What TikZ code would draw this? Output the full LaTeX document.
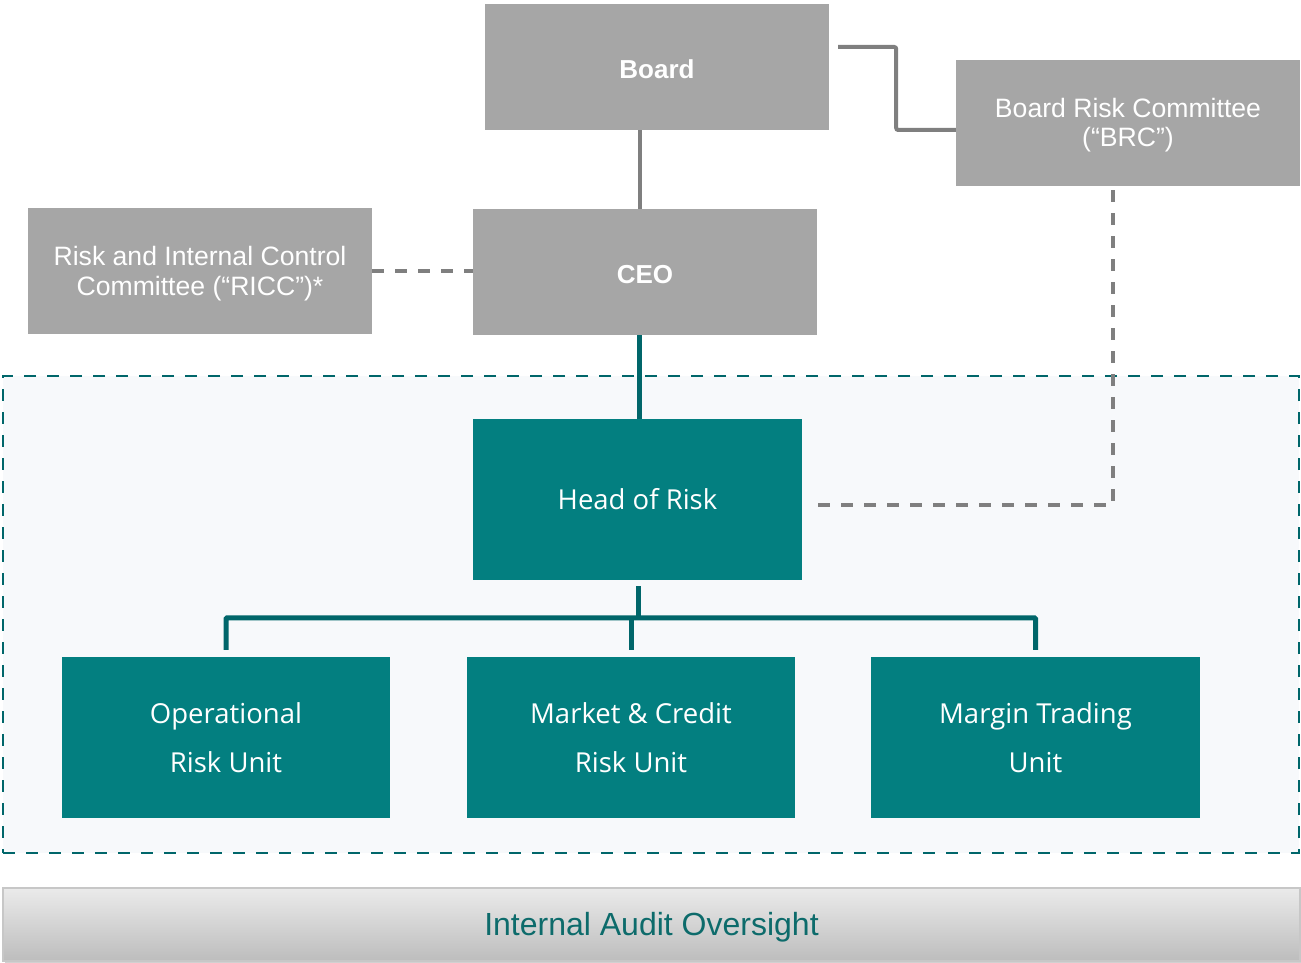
\documentclass[tikz,border=0pt]{standalone}
\usepackage{fontspec}
\setmainfont{Liberation Sans}
\newfontfamily\unitfont{Open Sans}
\usetikzlibrary{calc}

\definecolor{boxgray}{HTML}{A6A6A6}
\definecolor{linegray}{HTML}{7F7F7F}
\definecolor{boxteal}{HTML}{037F80}
\definecolor{lineteal}{HTML}{00666A}
\definecolor{areafill}{HTML}{F7F9FB}
\definecolor{audittext}{HTML}{0D6B6B}

% box labels sit a little below the geometric centre (box size kept)
\newcommand\boxlabel[2][3pt]{\raisebox{-#1}[\height][\depth]{\begin{tabular}{@{}c@{}}#2\end{tabular}}}

\tikzset{
  govbox/.style={rectangle, fill=boxgray, text=white, align=center, inner sep=0pt,
    minimum width=344pt, minimum height=126pt,
    font=\fontsize{26.6}{30}\selectfont},
  unitbox/.style={rectangle, fill=boxteal, text=white, align=center, inner sep=0pt,
    minimum width=329pt, minimum height=161pt,
    font=\unitfont\fontsize{27.5}{49}\selectfont},
  solidgray/.style={draw=linegray, line width=4pt},
  dashgray/.style={draw=linegray, line width=4pt, dash pattern=on 12pt off 11pt},
  solidteal/.style={draw=lineteal, line width=5pt},
  areabox/.style={rectangle, draw=lineteal, line width=2.5pt, fill=areafill,
    dash pattern=on 12pt off 11pt, inner sep=0pt},
}

\begin{document}
\begin{tikzpicture}[x=1pt, y=-1pt]
  \useasboundingbox (0,0) rectangle (1301,963);

  % risk function area
  \node[areabox, minimum width=1296pt, minimum height=477pt] (riskarea) at (651,614.5) {};

  % governance bodies
  \node[govbox, font=\bfseries\fontsize{26}{30}\selectfont] (board) at (657,67) {\boxlabel[6pt]{Board}};
  \node[govbox] (brc) at (1128,123) {\boxlabel{Board Risk Committee\\(“BRC”)}};
  \node[govbox, font=\bfseries\fontsize{26}{30}\selectfont] (ceo) at (645,272) {\boxlabel[5pt]{CEO}};
  \node[govbox] (ricc) at (200,271) {\boxlabel{Risk and Internal Control\\Committee (“RICC”)*}};

  % risk organisation
  \node[unitbox] (hor) at (637.5,499.5) {Head of Risk};
  \node[unitbox, minimum width=328pt] (oru) at (226,737.5) {Operational\\Risk Unit};
  \node[unitbox, minimum width=328pt] (mcru) at (631,737.5) {Market \& Credit\\Risk Unit};
  \node[unitbox] (mtu) at (1035.5,737.5) {Margin Trading\\Unit};

  % reporting lines
  \draw[solidgray, rounded corners=2pt] ($(board.east)+(9,-20)$) -- ++(58,0)
    |- ($(brc.west)+(0,7)$);
  \draw[solidgray] ($(board.south)+(-17,0)$) -- ($(ceo.north)+(-5,0)$);
  \draw[dashgray] (ricc.east) -- (ricc.east -| ceo.west);
  \draw[solidteal] ($(ceo.south)+(-6,0)$) -- ($(hor.north)+(1.5,0)$);
  \draw[dashgray] ($(brc.south)+(-15,4)$) |- ($(hor.east)+(10,5.5)$);

  % unit tree
  \draw[solidteal] ($(hor.south)+(0.5,6)$) -- ++(0,32);
  \draw[solidteal, rounded corners=1pt] ($(oru.north)+(0,-7)$) -- ($(oru.north)+(0,-39)$)
    -- ($(mtu.north)+(0,-39)$) -- ($(mtu.north)+(0,-7)$);
  \draw[solidteal] ($(mcru.north)+(0,-7)$) -- ($(mcru.north)+(0,-39)$);

  % audit bar
  \fill[black, opacity=0.18] (5,891) rectangle (1302,964);
  \node[rectangle, draw=black!22, line width=1.5pt, top color=black!8, bottom color=black!26,
    minimum width=1297pt, minimum height=73pt, inner sep=0pt,
    text=audittext, font=\fontsize{32}{36}\selectfont] (audit) at (651.5,924.5)
    {\boxlabel[4pt]{Internal Audit Oversight}};
\end{tikzpicture}
\end{document}
